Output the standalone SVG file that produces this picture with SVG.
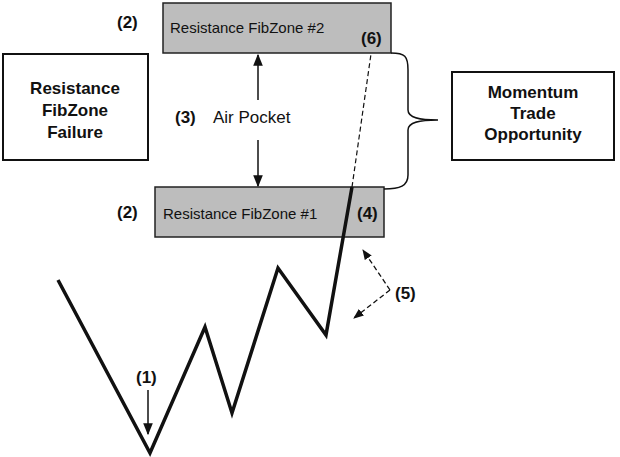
<svg xmlns="http://www.w3.org/2000/svg" width="620" height="457" viewBox="0 0 620 457">
<style>
text{font-family:"Liberation Sans",Arial,sans-serif;fill:#111}
.b{font-weight:bold;font-size:17px}
.z{fill:#bdbdbd;stroke:#222;stroke-width:1.5}
.n{fill:#fff;stroke:#111;stroke-width:2}
.l{font-size:15px}
</style>
<defs>
<marker id="a" viewBox="0 0 10 10" refX="9" refY="5" markerWidth="8" markerHeight="8" orient="auto-start-reverse"><path d="M0,1 L10,5 L0,9z" fill="#111"/></marker>
</defs>
<rect width="620" height="457" fill="#fff"/>
<g id="zone2"><rect class="z" x="163" y="3" width="228" height="50"/><text class="l" x="170" y="33">Resistance FibZone #2</text><text class="b" x="361" y="44">(6)</text><text class="b" x="117" y="28">(2)</text></g>
<g id="zone1"><rect class="z" x="155" y="187" width="229" height="50"/><text class="l" x="163" y="219">Resistance FibZone #1</text><text class="b" x="357" y="219">(4)</text><text class="b" x="117" y="218">(2)</text></g>
<g id="failure"><rect class="n" x="3" y="54" width="145" height="106"/><text class="b" text-anchor="middle" x="75" y="94">Resistance</text><text class="b" text-anchor="middle" x="75" y="116">FibZone</text><text class="b" text-anchor="middle" x="75" y="138">Failure</text></g>
<g id="momentum"><rect class="n" x="452" y="72" width="162" height="88"/><text class="b" text-anchor="middle" x="533" y="98">Momentum</text><text class="b" text-anchor="middle" x="533" y="119">Trade</text><text class="b" text-anchor="middle" x="533" y="140">Opportunity</text></g>
<g id="airpocket"><text class="b" x="175" y="123">(3)</text><text x="213" y="123" style="font-size:17px">Air Pocket</text></g>
<g id="labels"><text class="b" x="136" y="383">(1)</text><text class="b" x="395" y="299">(5)</text></g>
<g id="connectors" fill="none" stroke="#111">
<line x1="258" y1="100" x2="258" y2="55" stroke-width="1.5" marker-end="url(#a)"/>
<line x1="258" y1="140" x2="258" y2="186" stroke-width="1.5" marker-end="url(#a)"/>
<path d="M391,53 C405,53 408,56 408,70 L408,110 C408,118 420,120 438,120 C420,120 408,122 408,130 L408,175 C408,186 400,189 384,189" stroke-width="1.5"/>
<polyline points="58,280 150,453 205,327 232,413 278,268 326,335 352,187" stroke-width="3.5" stroke-linejoin="miter"/>
<line x1="352" y1="187" x2="371" y2="54" stroke-width="1.2" stroke-dasharray="5,3"/>
<line x1="390" y1="290" x2="363" y2="250" stroke-width="1.3" stroke-dasharray="5,3" marker-end="url(#a)"/>
<line x1="390" y1="290" x2="354" y2="318" stroke-width="1.3" stroke-dasharray="5,3" marker-end="url(#a)"/>
<line x1="148" y1="390" x2="148" y2="434" stroke-width="1.5" marker-end="url(#a)"/>
</g>
</svg>
